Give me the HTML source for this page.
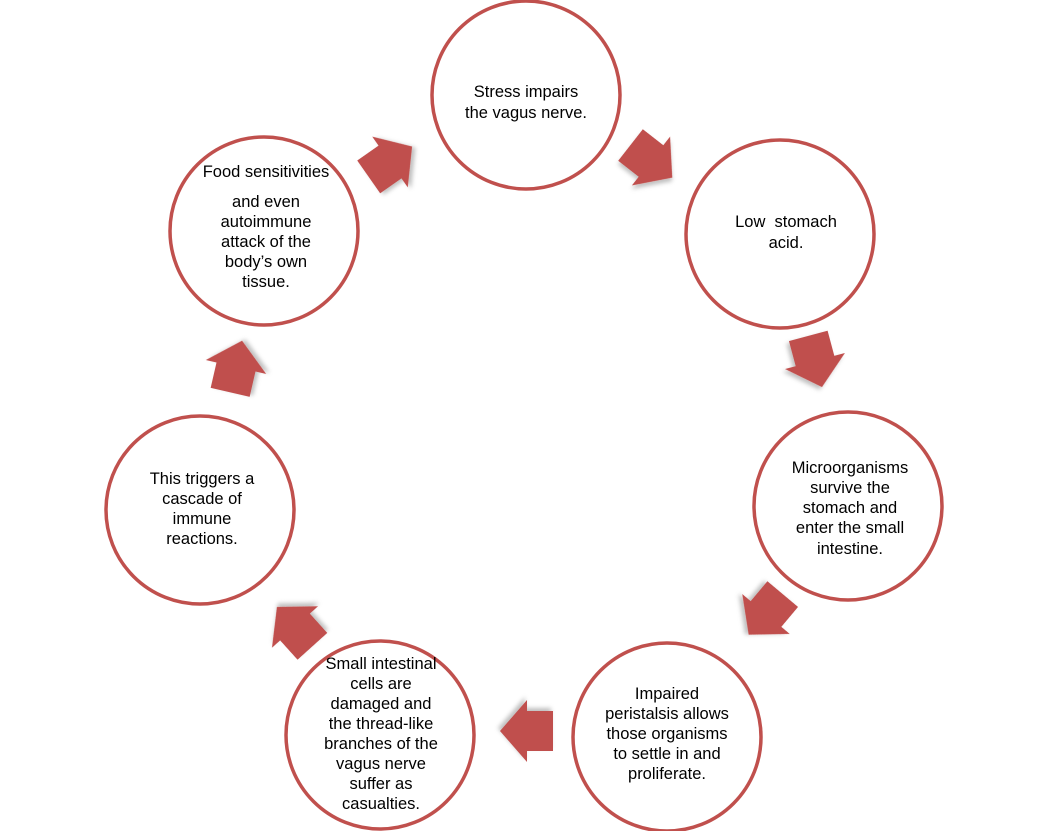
<!DOCTYPE html>
<html><head><meta charset="utf-8"><style>
html,body{margin:0;padding:0;background:#fff;width:1052px;height:831px;overflow:hidden}
svg{display:block}
text{font-family:"Liberation Sans",sans-serif;font-size:16.5px;fill:#000;text-anchor:middle}
</style></head><body>
<svg width="1052" height="831" viewBox="0 0 1052 831">
<defs>
<filter id="sh" x="-30%" y="-30%" width="160%" height="160%"><feDropShadow dx="2" dy="3" stdDeviation="2" flood-color="#000" flood-opacity="0.25"/></filter>
<polygon id="ar" points="-26,-20 0,-20 0,-31 27,0 0,31 0,20 -26,20" fill="#c0504d" filter="url(#sh)"/>
</defs>
<g fill="#fff" stroke="#c0504d" stroke-width="3.5">
<circle cx="526" cy="95" r="94"/>
<circle cx="780" cy="234" r="94"/>
<circle cx="848" cy="506" r="94"/>
<circle cx="667" cy="737" r="94"/>
<circle cx="380" cy="735" r="94"/>
<circle cx="200" cy="510" r="94"/>
<circle cx="264" cy="231" r="94"/>
</g>
<use href="#ar" transform="translate(390,162) rotate(-35)"/>
<use href="#ar" transform="translate(651,161) rotate(38)"/>
<use href="#ar" transform="translate(815,361) rotate(75)"/>
<use href="#ar" transform="translate(766,614) rotate(130)"/>
<use href="#ar" transform="translate(527,731) rotate(180)"/>
<use href="#ar" transform="translate(295,627) rotate(228)"/>
<use href="#ar" transform="translate(236,367) rotate(283)"/>
<text x="526" y="97">Stress impairs</text>
<text x="526" y="118">the vagus nerve.</text>
<text x="786" y="227">Low&#160;&#160;stomach</text>
<text x="786" y="248">acid.</text>
<text x="850" y="473">Microorganisms</text>
<text x="850" y="493">survive the</text>
<text x="850" y="513">stomach and</text>
<text x="850" y="533">enter the small</text>
<text x="850" y="554">intestine.</text>
<text x="667" y="699">Impaired</text>
<text x="667" y="719">peristalsis allows</text>
<text x="667" y="739">those organisms</text>
<text x="667" y="759">to settle in and</text>
<text x="667" y="779">proliferate.</text>
<text x="381" y="669">Small intestinal</text>
<text x="381" y="689">cells are</text>
<text x="381" y="709">damaged and</text>
<text x="381" y="729">the thread-like</text>
<text x="381" y="749">branches of the</text>
<text x="381" y="769">vagus nerve</text>
<text x="381" y="789">suffer as</text>
<text x="381" y="809">casualties.</text>
<text x="202" y="484">This triggers a</text>
<text x="202" y="504">cascade of</text>
<text x="202" y="524">immune</text>
<text x="202" y="544">reactions.</text>
<text x="266" y="177">Food sensitivities</text>
<text x="266" y="207">and even</text>
<text x="266" y="227">autoimmune</text>
<text x="266" y="247">attack of the</text>
<text x="266" y="267">body’s own</text>
<text x="266" y="287">tissue.</text>
</svg>
</body></html>
